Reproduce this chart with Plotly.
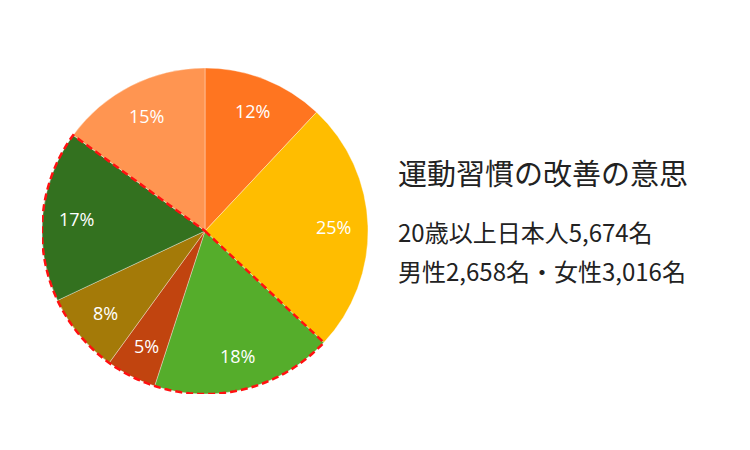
import numpy as np
import plotly.graph_objects as go

# slice data, clockwise from 12 o'clock
shares = [12, 25, 18, 5, 8, 17, 15]
slice_colors = ['#FF7520', '#FFBD00', '#55AD2B', '#C1440F', '#A47A08', '#33711F', '#FF9551']
highlight = [False, False, True, True, True, True, False]  # group with red dashed outline

title_text = '運動習慣の改善の意思'
sub_lines = ['20歳以上日本人5,674名', '男性2,658名・女性3,016名']

W, H = 750, 450
OFF = 8  # page margin of the html body
# pie box in pixels
cx, cy, R = 205 - OFF, 231 - OFF, 163
dom_x = [(cx - R) / W, (cx + R) / W]
dom_y = [(H - cy - R) / H, (H - cy + R) / H]

fig = go.Figure()

fig.add_trace(go.Pie(
    values=shares,
    sort=False,
    direction='clockwise',
    rotation=0,
    marker=dict(colors=slice_colors, line=dict(color='rgba(255,255,255,0.35)', width=1)),
    textinfo='none',
    hoverinfo='value',
    showlegend=False,
    domain=dict(x=dom_x, y=dom_y),
))

# angles from the data (0 = top, clockwise)
total = sum(shares)
cum = np.concatenate([[0], np.cumsum(shares)]) / total
start = cum[:-1] * 2 * np.pi
end = cum[1:] * 2 * np.pi
mid = (start + end) / 2

# empty trace so the overlay axes exist
fig.add_trace(go.Scatter(x=[-1, 1], y=[-1, 1], mode='markers',
                         marker=dict(opacity=0), hoverinfo='skip', showlegend=False))

# labels inside the slices
for v, a in zip(shares, mid):
    fig.add_annotation(
        x=0.79 * np.sin(a), y=0.79 * np.cos(a), xref='x', yref='y',
        text=f'{v}%', showarrow=False,
        font=dict(color='white', size=18, family='Open Sans, Noto Sans'),
    )

# red dashed outline around the highlighted group
idx = [i for i, h in enumerate(highlight) if h]
arc = np.linspace(start[idx[0]], end[idx[-1]], 120)
path = 'M 0,0 ' + ' '.join(f'L {np.sin(t):.4f},{np.cos(t):.4f}' for t in arc) + ' Z'
fig.add_shape(type='path', path=path, xref='x', yref='y', layer='above',
              line=dict(color='#FF1010', width=2.5, dash='7px,4px'))

fig.update_layout(
    width=W, height=H,
    margin=dict(l=0, r=0, t=0, b=0),
    paper_bgcolor='white',
    plot_bgcolor='rgba(0,0,0,0)',
    xaxis=dict(domain=dom_x, range=[-1, 1], visible=False, fixedrange=True),
    yaxis=dict(domain=dom_y, range=[-1, 1], visible=False, fixedrange=True),
    font=dict(family='Noto Sans CJK JP', color='#222222'),
)

fig.add_annotation(
    x=(396 - OFF) / W, y=(H - 172 + OFF) / H, xref='paper', yref='paper',
    xanchor='left', yanchor='middle', showarrow=False,
    text=title_text, font=dict(size=29, color='#222222'),
)
for i, line in enumerate(sub_lines):
    fig.add_annotation(
        x=(396 - OFF) / W, y=(H - 231 + OFF - 39 * i) / H, xref='paper', yref='paper',
        xanchor='left', yanchor='middle', showarrow=False,
        text=line, font=dict(size=24, color='#222222'),
    )

fig.write_html('out.html')
